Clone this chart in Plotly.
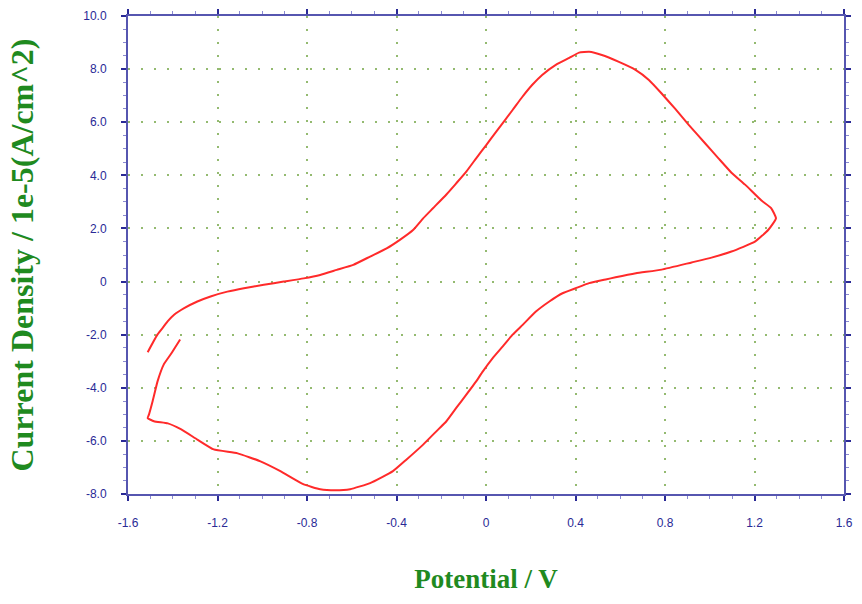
import plotly.graph_objects as go

# Cyclic voltammogram (potential in V, current density in 1e-5 A/cm^2)
potential = [
    -1.367, -1.409, -1.440, -1.468, -1.490, -1.506, -1.512,
    -1.484, -1.422, -1.364, -1.290, -1.217, -1.110, -1.008, -0.919, -0.817,
    -0.741, -0.674, -0.607, -0.518, -0.416,
    -0.355, -0.281, -0.222, -0.177, -0.133, -0.088, -0.044, -0.014, 0.030,
    0.075, 0.119, 0.164, 0.223, 0.283, 0.342, 0.401, 0.461, 0.535, 0.579,
    0.670, 0.785, 0.919, 1.008, 1.097, 1.202, 1.262, 1.296,
    1.275, 1.231, 1.158, 1.097, 1.039, 0.980, 0.906, 0.846, 0.785, 0.728,
    0.668, 0.594, 0.518, 0.461, 0.416, 0.372, 0.312, 0.251, 0.207, 0.162,
    0.118, 0.045, 0.001, -0.044, -0.088, -0.133, -0.177, -0.237,
    -0.281, -0.326, -0.385, -0.444, -0.518, -0.593, -0.667, -0.741, -0.815,
    -0.904, -0.993, -1.082, -1.156, -1.231, -1.290, -1.349, -1.394, -1.423,
    -1.440, -1.468, -1.512,
]
current = [
    -2.18, -2.74, -3.12, -3.76, -4.51, -5.00, -5.14,
    -5.26, -5.34, -5.56, -5.95, -6.32, -6.47, -6.77, -7.14, -7.63,
    -7.82, -7.86, -7.82, -7.59, -7.14,
    -6.70, -6.14, -5.64, -5.26, -4.76, -4.26, -3.76, -3.38, -2.88,
    -2.44, -2.00, -1.63, -1.13, -0.75, -0.44, -0.25, -0.06, 0.08, 0.16,
    0.31, 0.45, 0.72, 0.90, 1.13, 1.50, 1.95, 2.38,
    2.76, 3.05, 3.65, 4.10, 4.64, 5.20, 5.90, 6.50, 7.08, 7.59,
    7.97, 8.27, 8.53, 8.65, 8.62, 8.42, 8.16, 7.78, 7.41, 6.95,
    6.45, 5.64, 5.14, 4.64, 4.14, 3.70, 3.28, 2.76,
    2.38, 1.94, 1.57, 1.25, 0.94, 0.63, 0.44, 0.25, 0.12,
    0.00, -0.12, -0.25, -0.38, -0.56, -0.75, -1.00, -1.25, -1.50,
    -1.69, -1.99, -2.66,
]

x_tickvals = [-1.6, -1.2, -0.8, -0.4, 0, 0.4, 0.8, 1.2, 1.6]
x_ticktext = ["-1.6", "-1.2", "-0.8", "-0.4", "0", "0.4", "0.8", "1.2", "1.6"]
y_tickvals = [-8, -6, -4, -2, 0, 2, 4, 6, 8, 10]
y_ticktext = ["-8.0", "-6.0", "-4.0", "-2.0", "0", "2.0", "4.0", "6.0", "8.0", "10.0"]

AXIS_COLOR = "#5656b0"
TICK_COLOR = "#2a2a96"
GRID_COLOR = "#94ba70"
TITLE_COLOR = "#1f8a1f"

fig = go.Figure()
fig.add_trace(go.Scatter(
    x=potential, y=current, mode="lines",
    line=dict(color="#ff2a2a", width=2, shape="spline", smoothing=0.4),
    showlegend=False, hoverinfo="skip",
))

common = dict(
    showline=True, linecolor=AXIS_COLOR, linewidth=2, mirror="allticks",
    ticks="outside", ticklen=5, tickwidth=2, tickcolor=TICK_COLOR,
    showgrid=True, gridcolor=GRID_COLOR, gridwidth=2, griddash="2px,11px",
    zeroline=False,
    tickfont=dict(family="Liberation Sans", size=12, color=TICK_COLOR),
)

fig.update_xaxes(
    range=[-1.6, 1.6], tickmode="array", tickvals=x_tickvals, ticktext=x_ticktext,
    minor=dict(dtick=0.1, ticks="outside", ticklen=3, tickwidth=1, tickcolor="#8a8ad0", showgrid=False),
    ticklabelstandoff=12,
    title=dict(text="Potential / V", standoff=40,
               font=dict(family="Liberation Serif", size=27, color=TITLE_COLOR, weight="bold")),
    **common,
)
fig.update_yaxes(
    range=[-8, 10], tickmode="array", tickvals=y_tickvals, ticktext=y_ticktext,
    minor=dict(dtick=0.5, ticks="outside", ticklen=3, tickwidth=1, tickcolor="#8a8ad0", showgrid=False),
    ticklabelstandoff=12,
    title=dict(text="Current Density / 1e-5(A/cm^2)", standoff=40,
               font=dict(family="Liberation Serif", size=32, color=TITLE_COLOR, weight="bold")),
    **common,
)

fig.update_layout(
    width=862, height=604,
    margin=dict(l=128, r=9, t=9, b=110),
    paper_bgcolor="white", plot_bgcolor="white",
)

fig.write_html("out.html")
